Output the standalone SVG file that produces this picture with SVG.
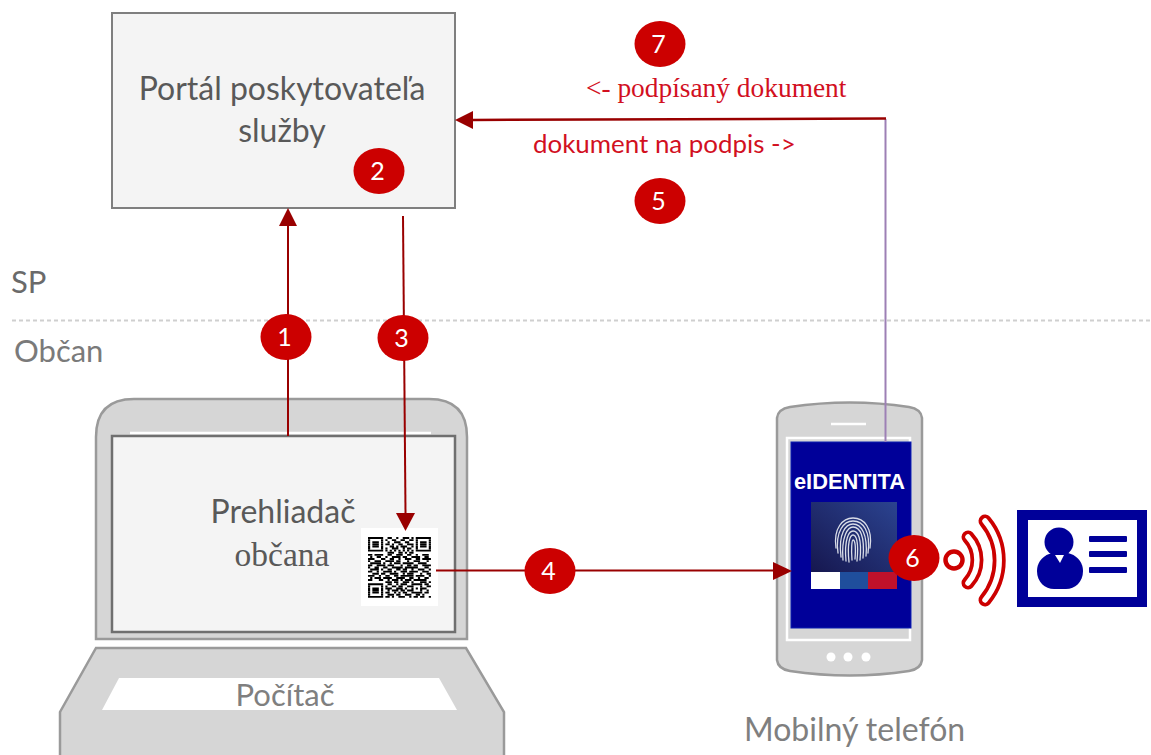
<svg xmlns="http://www.w3.org/2000/svg" width="1151" height="755" viewBox="0 0 1151 755">
<style>
.dev{fill:#d6d6d6;stroke:#9a9a9a;stroke-width:2.5}
.scr{fill:#f4f4f4;stroke:#6f6f6f;stroke-width:2.5}
.t{font-family:Lato,"Open Sans",sans-serif;fill:#595959;font-size:32px}
.s{font-family:"Liberation Serif",serif}
.r{fill:#d2101f}
.b{fill:#cc0000}
.n{font-family:Lato,"Open Sans",sans-serif;fill:#fff;font-size:25px;text-anchor:middle}
.c{fill:none;stroke:#990000;stroke-width:2}
.a{fill:#990000}
.m{text-anchor:middle}
.w{fill:none;stroke:#cc0000;stroke-width:13;stroke-linecap:round}
.wi{fill:none;stroke:#fff;stroke-width:5.5;stroke-linecap:round}
.fp{fill:none;stroke:#d9dde8;stroke-width:1.3;stroke-linecap:round}
.blue{fill:#000099}
</style>
<defs>
<linearGradient id="fg" x1="0" y1="1" x2="1" y2="0"><stop offset="0" stop-color="#16174f"/><stop offset="1" stop-color="#2b4390"/></linearGradient>
</defs>
<rect width="1151" height="755" fill="#fff"/>
<path d="M12 320.500H1150" fill="none" stroke="#cfcfcf" stroke-width="2" stroke-dasharray="4 3"/>
<text class="t" x="11" y="293" style="font-size:31px;fill:#6a6a6a">SP</text>
<text class="t" x="14" y="362" style="font-size:31px;fill:#7a7a7a">Občan</text>

<g id="portal">
<rect x="112" y="13" width="343" height="195" fill="#f4f4f4" stroke="#7f7f7f" stroke-width="2"/>
<text class="t m" x="282" y="100">Portál poskytovateľa</text>
<text class="t m" x="282" y="142">služby</text>
</g>

<g id="laptop">
<path class="dev" d="M96 639V437Q96 399 134 399H429Q467 399 467 437V639Z"/>
<path d="M130 433H431" stroke="#fff" stroke-width="2.500" fill="none"/>
<rect class="scr" x="112" y="436" width="343" height="196"/>
<path class="dev" d="M96 648H466L504 712V757H60V712Z"/>
<path d="M119 678H439L457 710H102Z" fill="#fff"/>
<text class="t m" x="283" y="523">Prehliadač</text>
<text class="t s m" x="282" y="566" style="font-size:33.500px">občana</text>
<text class="t m" x="285" y="706" style="fill:#7f7f7f;font-size:31px">Počítač</text>
<g id="qr">
<rect x="361" y="528" width="77" height="78" fill="#fff"/>
<g transform="translate(368 537) scale(2.17 2.1)">
<path fill="none" stroke="#000" stroke-width=".9" d="M0 .5h7M22 .5h7M0 1.500h1M6 1.500h1M22 1.500h1M28 1.500h1M0 5.500h1M6 5.500h1M22 5.500h1M28 5.500h1M0 6.500h7M22 6.500h7M2 2.500h3M2 3.500h3M2 4.500h3M24 2.500h3M24 3.500h3M24 4.500h3M0 22.500h7M0 28.500h7M0 23.500h1M6 23.500h1M0 27.500h1M6 27.500h1M2 24.500h3M2 25.500h3M2 26.500h3
M0 2.500h1M6 2.500h1M0 3.500h1M6 3.500h1M0 4.500h1M6 4.500h1M22 2.500h1M28 2.500h1M22 3.500h1M28 3.500h1M22 4.500h1M28 4.500h1M0 24.500h1M6 24.500h1M0 25.500h1M6 25.500h1M0 26.500h1M6 26.500h1
M9 .5h2M13 .5h1M16 .5h3M20 .5h1M8 1.500h1M11 1.500h2M15 1.500h2M19 1.500h2M9 2.500h1M12 2.500h3M17 2.500h2M8 3.500h2M11 3.500h1M14 3.500h2M18 3.500h3M10 4.500h2M13 4.500h1M15 4.500h3M20 4.500h1M8 5.500h1M11 5.500h3M16 5.500h1M18 5.500h2M8 6.500h1M10 6.500h1M12 6.500h1M14 6.500h1M16 6.500h1M18 6.500h1M20 6.500h1M9 7.500h3M14 7.500h2M17 7.500h1M19 7.500h2
M0 8.500h2M3 8.500h4M9 8.500h2M13 8.500h3M18 8.500h2M22 8.500h1M25 8.500h3M1 9.500h1M4 9.500h2M8 9.500h1M11 9.500h4M16 9.500h2M20 9.500h4M26 9.500h2M0 10.500h3M6 10.500h2M10 10.500h2M14 10.500h1M17 10.500h3M22 10.500h2M25 10.500h4M0 11.500h1M3 11.500h3M8 11.500h4M13 11.500h2M18 11.500h1M21 11.500h3M27 11.500h1M1 12.500h5M7 12.500h1M10 12.500h1M12 12.500h3M16 12.500h5M23 12.500h4M0 13.500h2M4 13.500h4M9 13.500h3M15 13.500h1M18 13.500h2M21 13.500h2M25 13.500h4M0 14.500h1M3 14.500h2M7 14.500h2M11 14.500h5M17 14.500h6M26 14.500h2M1 15.500h4M6 15.500h1M9 15.500h2M13 15.500h2M16 15.500h2M20 15.500h1M23 15.500h3M28 15.500h1M0 16.500h2M4 16.500h1M7 16.500h4M12 16.500h1M15 16.500h3M19 16.500h4M25 16.500h3M2 17.500h3M6 17.500h2M10 17.500h4M16 17.500h1M18 17.500h3M24 17.500h1M27 17.500h2M0 18.500h3M5 18.500h1M8 18.500h2M12 18.500h2M15 18.500h6M22 18.500h4M28 18.500h1M1 19.500h1M3 19.500h3M7 19.500h4M13 19.500h4M19 19.500h2M23 19.500h1M26 19.500h2M0 20.500h2M5 20.500h2M9 20.500h1M11 20.500h3M15 20.500h1M17 20.500h3M21 20.500h6
M8 21.500h3M12 21.500h2M16 21.500h3M20 21.500h1M24 21.500h3M28 21.500h1M9 22.500h2M13 22.500h1M15 22.500h3M20 22.500h5M26 22.500h2M8 23.500h1M11 23.500h2M14 23.500h2M18 23.500h2M20 23.500h1M24 23.500h1M27 23.500h2M8 24.500h3M13 24.500h3M17 24.500h1M20 24.500h1M22 24.500h1M24 24.500h3M9 25.500h1M11 25.500h3M15 25.500h2M18 25.500h3M24 25.500h1M27 25.500h1M8 26.500h2M12 26.500h1M14 26.500h1M16 26.500h2M20 26.500h5M26 26.500h2M9 27.500h3M13 27.500h2M17 27.500h3M22 27.500h2M25 27.500h1M8 28.500h2M11 28.500h1M14 28.500h3M19 28.500h1M21 28.500h2M24 28.500h2M28 28.500h1"/>
</g>
</g>
</g>

<g id="phone">
<path class="dev" d="M777 418Q778 409 790 407Q850 398 909 407Q921 409 922 418V660Q921 669 909 671Q850 680 790 671Q778 669 777 660Z"/>
<path d="M831 424H866" stroke="#fff" stroke-width="2.500" fill="none"/>
<rect x="787" y="438" width="123" height="202" fill="none" stroke="#fff" stroke-width="2.500"/>
<circle cx="831" cy="657" r="4.500" fill="#fff"/><circle cx="848" cy="657" r="4.500" fill="#fff"/><circle cx="866" cy="657" r="4.500" fill="#fff"/>
<rect x="791" y="442" width="120" height="186" class="blue" stroke="#0a1fb0" stroke-width="1"/>
<text x="849.500" y="488.500" text-anchor="middle" font-family="'Liberation Sans',Arial,sans-serif" font-weight="700" font-size="21.800" fill="#fff">eIDENTITA</text>
<rect x="811" y="502" width="86" height="70" fill="url(#fg)"/>
<g class="fp">
<path d="M836 548C833 528 843 518 853 518C864 518 873 528 870 548"/>
<path d="M838 553C835 531 844 521 853 521C863 521 871 531 868 553"/>
<path d="M841 557C838 533 846 524 853 524C861 524 868 534 866 556"/>
<path d="M843 560C841 536 848 527 853 527C860 527 865 536 863 558"/>
<path d="M846 561C844 539 849 531 853 531C858 531 862 538 860 560"/>
<path d="M849 562C847 543 850 535 853 535C856 535 859 541 857 561"/>
<path d="M852 560C851 548 852 540 853 540C855 540 856 546 855 559"/>
</g>
<rect x="811" y="572" width="29" height="17" fill="#fff"/>
<rect x="840" y="572" width="28" height="17" fill="#1f4e9c"/>
<rect x="868" y="572" width="29" height="17" fill="#c0112b"/>
</g>

<g id="nfc">
<circle cx="954" cy="560" r="8.500" fill="#fff" stroke="#cc0000" stroke-width="4.500"/>
<path class="w" d="M968 537A34 34 0 0 1 968 583"/>
<path class="w" d="M985 521A62 62 0 0 1 985 600"/>
<path class="wi" d="M968 537A34 34 0 0 1 968 583"/>
<path class="wi" d="M985 521A62 62 0 0 1 985 600"/>
</g>

<g id="idcard">
<rect x="1017" y="510" width="130" height="97" class="blue"/>
<rect x="1028" y="520" width="109" height="77" fill="#fff"/>
<circle cx="1059" cy="542" r="14.500" class="blue"/>
<path class="blue" d="M1037 571C1037 560 1046 552 1060 552C1074 552 1083 560 1083 571C1083 582 1075 589 1066 589H1054C1045 589 1037 582 1037 571Z"/>
<path d="M1055 555H1064L1060 563Z" fill="#fff"/>
<rect x="1089" y="536" width="38" height="6" rx="1" class="blue"/>
<rect x="1089" y="551" width="38" height="6" rx="1" class="blue"/>
<rect x="1089" y="567" width="38" height="6" rx="1" class="blue"/>
</g>

<g id="connectors">
<path d="M885.500 119V442" fill="none" stroke="#9d80b5" stroke-width="2"/>
<path class="c" d="M288 436V226"/><path class="a" d="M288 208L297 226H279Z"/>
<path class="c" d="M403 216L405.500 513"/><path class="a" d="M405.500 531L396 513H415Z"/>
<path class="c" d="M436 570.500H774"/><path class="a" d="M792 571L773 562V580Z"/>
<path class="c" d="M886 118.500L472 120" style="stroke-width:2.500"/><path class="a" d="M455 120L473 111V129Z"/>
</g>

<g id="label-signed"><text class="s r" x="586" y="97" font-size="27.400">&lt;- podpísaný dokument</text></g>
<g id="label-sign"><text class="r" x="533" y="153" font-family="Lato,'Open Sans',sans-serif" font-size="25.900">dokument na podpis -&gt;</text></g>

<g id="badge1"><ellipse class="b" cx="286" cy="337" rx="25.500" ry="23"/><text class="n" x="284.500" y="346">1</text></g>
<g id="badge2"><ellipse class="b" cx="379" cy="171" rx="25.500" ry="23"/><text class="n" x="377.500" y="180">2</text></g>
<g id="badge3"><ellipse class="b" cx="403" cy="338" rx="25.500" ry="23"/><text class="n" x="401.500" y="347">3</text></g>
<g id="badge4"><ellipse class="b" cx="550" cy="571" rx="25.500" ry="23"/><text class="n" x="548.500" y="580">4</text></g>
<g id="badge5"><ellipse class="b" cx="660" cy="201" rx="25.500" ry="23"/><text class="n" x="658.500" y="210">5</text></g>
<g id="badge6"><ellipse class="b" cx="914" cy="558" rx="25.500" ry="23"/><text class="n" x="912.500" y="567">6</text></g>
<g id="badge7"><ellipse class="b" cx="660" cy="44" rx="25.500" ry="23"/><text class="n" x="658.500" y="53">7</text></g>

<g id="label-mobile"><text class="t" x="744" y="741" style="fill:#7f7f7f">Mobilný telefón</text></g>
</svg>
